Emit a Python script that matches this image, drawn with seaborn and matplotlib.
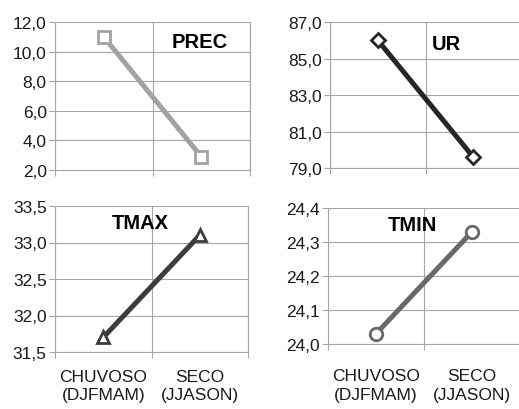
import matplotlib
matplotlib.use("Agg")
import matplotlib.pyplot as plt
import seaborn as sns
import pandas as pd
from matplotlib.ticker import FixedLocator, FuncFormatter

seasons = ["CHUVOSO\n(DJFMAM)", "SECO\n(JJASON)"]
prec = [11.0, 2.9]
ur = [86.0, 79.6]
tmax = [31.7, 33.1]
tmin = [24.03, 24.33]

prec_ticks = [2, 4, 6, 8, 10, 12]
ur_ticks = [79, 81, 83, 85, 87]
tmax_ticks = [31.5, 32.0, 32.5, 33.0, 33.5]
tmin_ticks = [24.0, 24.1, 24.2, 24.3, 24.4]

sns.set_style("white")
plt.rcParams["font.family"] = ["Liberation Sans", "DejaVu Sans"]

W, H = 519, 410
fig = plt.figure(figsize=(W / 100, H / 100), dpi=100)


def box(left, right, top, bottom):
    return [left / W, 1 - bottom / H, (right - left) / W, (bottom - top) / H]


panels = [
    # name, values, ticks, color, marker, rect, label pos, x label pad (None = no labels)
    ("PREC", prec, prec_ticks, "#a3a3a3", "s", box(55, 250, 23, 171), (0.60, 0.865), None),
    ("UR", ur, ur_ticks, "#262626", "D", box(330, 521, 23, 169), (0.534, 0.85), None),
    ("TMAX", tmax, tmax_ticks, "#3c3c3c", "^", box(55, 248, 207, 353), (0.295, 0.89), 12),
    ("TMIN", tmin, tmin_ticks, "#686868", "o", box(328, 520, 209, 345), (0.31, 0.88), 17.5),
]

grid_c = "#a6a6a6"
comma = FuncFormatter(lambda v, p: f"{v:.1f}".replace(".", ","))

for name, vals, ticks, color, marker, rect, lpos, xpad in panels:
    ax = fig.add_axes(rect)
    df = pd.DataFrame({"season": seasons, "value": vals})
    msize = 9 if marker != "D" else 7
    sns.lineplot(data=df, x="season", y="value", ax=ax, color=color, linewidth=3.6,
                 marker=marker, markersize=msize, markerfacecolor="white",
                 markeredgecolor=color, markeredgewidth=2, sort=False)
    ax.set_xlim(-0.5, 1.5)
    ax.set_ylim(ticks[0], ticks[-1])
    ax.yaxis.set_major_locator(FixedLocator(ticks))
    ax.yaxis.set_major_formatter(comma)
    ax.xaxis.set_major_locator(FixedLocator([0, 1]))
    ax.xaxis.set_minor_locator(FixedLocator([-0.5, 0.5, 1.5]))
    if xpad is not None:
        ax.set_xticklabels(seasons)
    else:
        ax.set_xticklabels([])
        xpad = 4
    ax.set_xlabel("")
    ax.set_ylabel("")
    ax.grid(False)
    ax.grid(axis="y", which="major", color=grid_c, linewidth=0.8)
    ax.grid(axis="x", which="minor", color=grid_c, linewidth=0.8)
    ax.spines["top"].set_visible(False)
    for s in ["left", "bottom", "right"]:
        ax.spines[s].set_color(grid_c)
        ax.spines[s].set_linewidth(0.8)
    ax.tick_params(axis="y", which="major", length=4, color=grid_c, width=0.8,
                   labelsize=12.5, labelcolor="#1a1a1a", pad=2, left=True)
    ax.tick_params(axis="x", which="major", length=0, labelsize=12.5,
                   labelcolor="#1a1a1a", pad=xpad)
    ax.tick_params(axis="x", which="minor", length=4, color=grid_c, width=0.8,
                   bottom=True)
    for t in ax.get_xticklabels():
        t.set_linespacing(1.3)
    ax.set_facecolor("white")
    ax.text(lpos[0], lpos[1], name, transform=ax.transAxes, fontsize=14.5,
            fontweight="bold", va="center", ha="left", color="black")

fig.savefig("out.png", dpi=100, facecolor="white")
